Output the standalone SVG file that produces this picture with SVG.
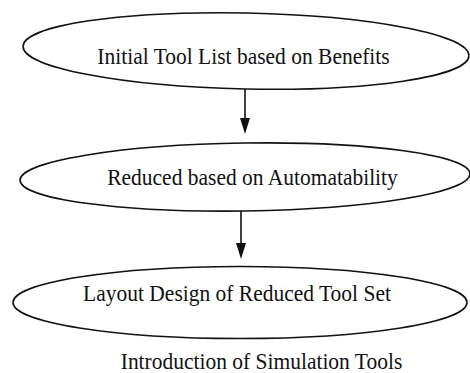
<svg xmlns="http://www.w3.org/2000/svg" width="470" height="373" viewBox="0 0 470 373">
<style>
.n{fill:none;stroke:#111;stroke-width:1.6}
.t{font-family:"Liberation Serif","Times New Roman",serif;font-size:21.5px;fill:#111;text-anchor:middle}
.c{stroke:#111;stroke-width:1.6;fill:none}
.h{fill:#111}
</style>
<rect width="470" height="373" fill="#fff"/>
<g id="node1"><ellipse class="n" cx="246" cy="51" rx="223" ry="38" transform="rotate(1.2 246 51)"/><text class="t" transform="translate(243.5 64) scale(1 1.12)">Initial Tool List based on Benefits</text></g>
<g id="node2"><ellipse class="n" cx="245" cy="177" rx="225" ry="34" transform="rotate(-0.8 245 177)"/><text class="t" transform="translate(252.5 185) scale(1 1.12)">Reduced based on Automatability</text></g>
<g id="node3"><ellipse class="n" cx="240" cy="302.5" rx="227" ry="36"/><text class="t" transform="translate(237 301) scale(1 1.12)">Layout Design of Reduced Tool Set</text></g>
<g id="label4"><text class="t" transform="translate(261.5 369) scale(1 1.08)">Introduction of Simulation Tools</text></g>
<g id="connectors">
<line class="c" x1="245" y1="89" x2="245" y2="120"/>
<path class="h" d="M240,118 L250,118 L245,134 Z"/>
<line class="c" x1="241" y1="211" x2="241" y2="245"/>
<path class="h" d="M236,243 L246,243 L241,259 Z"/>
</g>
</svg>
